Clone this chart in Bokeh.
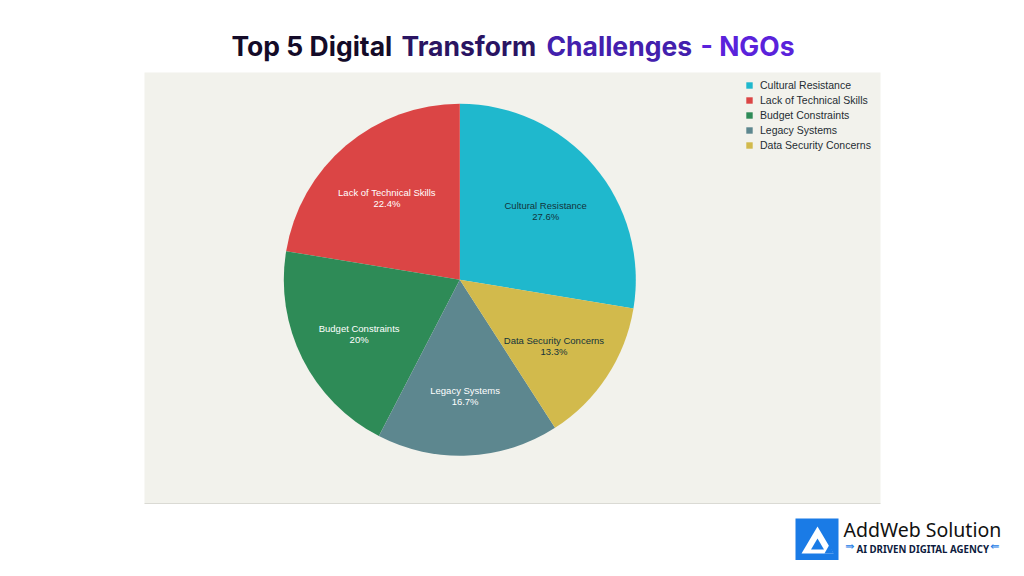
import math
from bokeh.plotting import figure
from bokeh.models import Range1d, Legend, LegendItem, ColumnDataSource
from bokeh.core.properties import value
from bokeh.embed import file_html
from bokeh.resources import INLINE

# ---- data ----
categories = ["Cultural Resistance", "Lack of Technical Skills", "Budget Constraints",
              "Legacy Systems", "Data Security Concerns"]
shares = [27.6, 22.4, 20.0, 16.7, 13.3]
colors = ["#1FB8CD", "#DB4545", "#2E8B57", "#5D878F", "#D2BA4C"]
label_colors = ["#13343B", "#FFFFFF", "#FFFFFF", "#FFFFFF", "#13343B"]
title_parts = ["Top 5 Digital", "Transform", "Challenges", "- NGOs"]
title_colors = ["#140b28", "#2a1462", "#4320ad", "#5a22db"]

W, H = 1008, 560
def X(px):
    return px
def Y(py):
    return H - py

p = figure(width=W, height=H, x_range=Range1d(0, W), y_range=Range1d(0, H),
           output_backend="svg", toolbar_location=None, min_border=0,
           background_fill_color="white", border_fill_color="white")
p.axis.visible = False
p.grid.visible = False
p.outline_line_color = None

# plot panel
p.quad(left=X(144), right=X(880), bottom=Y(503), top=Y(72), fill_color="#F2F2EC", line_color=None)
p.segment(x0=X(144), x1=X(880), y0=Y(503), y1=Y(503), line_color="#DADAD4", line_width=1)

# pie
cx, cy, R = X(459.3), Y(279.3), 176
total = sum(shares)
starts, ends = [], []
a = math.radians(90) - shares[0] / total * 2 * math.pi
for s in shares:
    starts.append(a)
    a += s / total * 2 * math.pi
    ends.append(a)
mids = [(s + e) / 2 for s, e in zip(starts, ends)]
src = ColumnDataSource(dict(cat=categories, share=shares, color=colors,
                            start=starts, end=ends))
wr = p.wedge(x=cx, y=cy, radius=R, start_angle="start", end_angle="end",
             fill_color="color", line_color=None, source=src)

lab = ColumnDataSource(dict(
    x=[cx + 0.64 * R * math.cos(m) for m in mids],
    y=[cy + 0.64 * R * math.sin(m) - 4 for m in mids],
    t=[f"{c}\n{s:g}%" for c, s in zip(categories, shares)],
    c=label_colors))
p.text(x="x", y="y", text="t", text_color="c", source=lab, text_align="center",
       text_baseline="middle", text_font=value("Liberation Sans"), text_font_size="9.5px",
       text_line_height=1.0)

# legend
items = [LegendItem(label=c, renderers=[wr], index=i) for i, c in enumerate(categories)]
leg = Legend(items=items, location=(X(739), Y(158)), orientation="vertical",
             label_text_font="Liberation Sans", label_text_font_size="10.5px",
             label_text_color="#1f2d33", glyph_width=8, glyph_height=8,
             label_height=14, spacing=1, padding=6, margin=0, label_standoff=7,
             background_fill_alpha=0, border_line_alpha=0)
p.add_layout(leg)

# title (gradient approximated per word)
title_x = [231, 401, 546, 700]
for t, col, xx in zip(title_parts, title_colors, title_x):
    p.text(x=[X(xx)], y=[Y(45)], text=[t], text_color=col, text_font=value("Inter"),
           text_font_style="bold", text_font_size="26.5px", text_align="left",
           text_baseline="alphabetic")

# logo
p.quad(left=X(795), right=X(838), bottom=Y(560), top=Y(518), fill_color="#1A7BE6", line_color=None)
p.patch(x=[X(817), X(801), X(833)], y=[Y(526), Y(553), Y(553)], fill_color="white", line_color=None)
p.patch(x=[X(817), X(810.5), X(823.5)], y=[Y(538), Y(549), Y(549)], fill_color="#1A7BE6", line_color=None)
p.patch(x=[X(824), X(829), X(833), X(828)], y=[Y(553), Y(544), Y(553), Y(553)], fill_color="#1A7BE6", line_color=None)
p.text(x=[X(843)], y=[Y(529)], text=["AddWeb Solution"], text_color="#111111",
       text_font=value("Noto Sans"), text_font_size="19.5px", text_baseline="alphabetic")
p.text(x=[X(856)], y=[Y(549)], text=["AI DRIVEN DIGITAL AGENCY"], text_color="#0D1B3E",
       text_font=value("Noto Sans"), text_font_style="bold", text_font_size="9.7px",
       text_baseline="alphabetic")
p.text(x=[X(849), X(994)], y=[Y(546), Y(546)], text=["⇛", "⇚"], text_color="#1A7BE6",
       text_font=value("DejaVu Sans"), text_font_size="11px", text_align="center",
       text_baseline="middle")

open("out.html", "w").write(file_html(p, INLINE))
